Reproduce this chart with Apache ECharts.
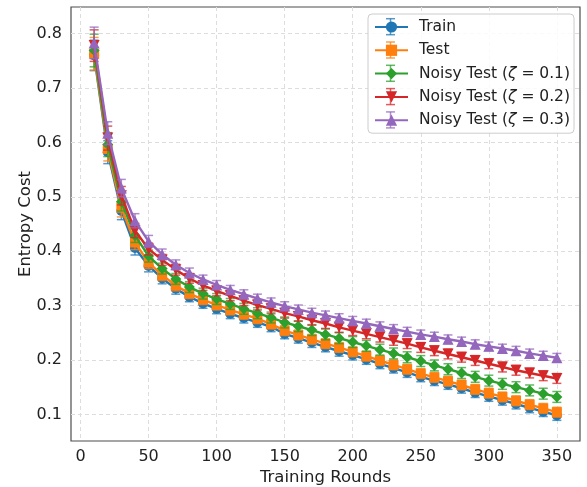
<!DOCTYPE html>
<html>
<head>
<meta charset="utf-8">
<script src="https://cdn.jsdelivr.net/npm/echarts@6/dist/echarts.min.js"></script>
<style>
  html, body { margin: 0; padding: 0; background: #fff; }
  #chart { width: 587px; height: 487px; }
</style>
</head>
<body>
<div id="chart"></div>
<script>
// Training rounds (x values)
const rounds = [10, 20, 30, 40, 50, 60, 70, 80, 90, 100, 110, 120, 130, 140, 150, 160, 170, 180,
  190, 200, 210, 220, 230, 240, 250, 260, 270, 280, 290, 300, 310, 320, 330, 340, 350];

// Mean entropy cost per split
const trainCost = [0.760, 0.582, 0.474, 0.406, 0.373, 0.350, 0.331, 0.316, 0.304, 0.294, 0.285, 0.277,
  0.269, 0.261, 0.248, 0.240, 0.232, 0.224, 0.216, 0.209, 0.201, 0.193, 0.185, 0.177, 0.169, 0.162,
  0.155, 0.148, 0.140, 0.133, 0.126, 0.119, 0.112, 0.105, 0.098];
const testCost = [0.763, 0.588, 0.480, 0.416, 0.379, 0.356, 0.337, 0.322, 0.311, 0.301, 0.292, 0.284,
  0.276, 0.266, 0.254, 0.246, 0.238, 0.230, 0.223, 0.215, 0.207, 0.199, 0.191, 0.183, 0.175, 0.168,
  0.161, 0.154, 0.146, 0.139, 0.132, 0.125, 0.118, 0.111, 0.104];
const noisy1Cost = [0.769, 0.596, 0.491, 0.429, 0.391, 0.368, 0.349, 0.334, 0.322, 0.312, 0.303, 0.294,
  0.286, 0.278, 0.269, 0.262, 0.255, 0.247, 0.240, 0.233, 0.226, 0.219, 0.212, 0.205, 0.198, 0.190,
  0.183, 0.176, 0.169, 0.162, 0.156, 0.150, 0.144, 0.138, 0.132];
const noisy2Cost = [0.778, 0.608, 0.502, 0.438, 0.404, 0.384, 0.366, 0.350, 0.337, 0.327, 0.318, 0.309,
  0.301, 0.294, 0.286, 0.280, 0.273, 0.267, 0.260, 0.254, 0.248, 0.242, 0.236, 0.230, 0.223, 0.217,
  0.211, 0.205, 0.199, 0.193, 0.187, 0.181, 0.176, 0.171, 0.166];
const noisy3Cost = [0.783, 0.617, 0.516, 0.456, 0.418, 0.394, 0.375, 0.360, 0.348, 0.338, 0.329, 0.321,
  0.313, 0.306, 0.299, 0.293, 0.287, 0.282, 0.277, 0.272, 0.267, 0.262, 0.257, 0.252, 0.247, 0.243,
  0.238, 0.234, 0.229, 0.225, 0.221, 0.217, 0.212, 0.208, 0.204];

// Standard deviation per split
const trainErr = [0.028, 0.021, 0.016, 0.013, 0.011, 0.010, 0.010, 0.009, 0.009, 0.009, 0.009, 0.009,
  0.009, 0.009, 0.009, 0.009, 0.009, 0.009, 0.009, 0.009, 0.009, 0.009, 0.009, 0.009, 0.009, 0.009,
  0.009, 0.009, 0.009, 0.009, 0.009, 0.009, 0.009, 0.009, 0.009];
const testErr = [0.030, 0.022, 0.017, 0.013, 0.011, 0.010, 0.010, 0.009, 0.009, 0.009, 0.009, 0.009,
  0.009, 0.009, 0.009, 0.009, 0.009, 0.009, 0.009, 0.009, 0.009, 0.009, 0.009, 0.009, 0.009, 0.009,
  0.009, 0.009, 0.009, 0.009, 0.009, 0.009, 0.009, 0.009, 0.009];
const noisy1Err = [0.030, 0.022, 0.017, 0.013, 0.011, 0.010, 0.010, 0.010, 0.010, 0.010, 0.010, 0.010,
  0.010, 0.010, 0.010, 0.010, 0.010, 0.010, 0.010, 0.010, 0.010, 0.010, 0.010, 0.010, 0.010, 0.010,
  0.010, 0.010, 0.010, 0.010, 0.010, 0.010, 0.010, 0.010, 0.010];
const noisy2Err = [0.029, 0.022, 0.017, 0.013, 0.011, 0.010, 0.010, 0.009, 0.009, 0.009, 0.009, 0.009,
  0.009, 0.009, 0.009, 0.009, 0.009, 0.009, 0.009, 0.009, 0.009, 0.009, 0.009, 0.009, 0.009, 0.009,
  0.009, 0.009, 0.009, 0.009, 0.009, 0.009, 0.009, 0.009, 0.009];
const noisy3Err = [0.029, 0.021, 0.016, 0.013, 0.011, 0.010, 0.009, 0.009, 0.008, 0.008, 0.008, 0.008,
  0.008, 0.008, 0.008, 0.008, 0.008, 0.008, 0.008, 0.008, 0.008, 0.008, 0.008, 0.008, 0.008, 0.008,
  0.008, 0.008, 0.008, 0.008, 0.008, 0.008, 0.008, 0.008, 0.008];

const seriesNames = ['Train', 'Test', 'Noisy Test (ζ = 0.1)', 'Noisy Test (ζ = 0.2)', 'Noisy Test (ζ = 0.3)'];
const means = [trainCost, testCost, noisy1Cost, noisy2Cost, noisy3Cost];
const errs = [trainErr, testErr, noisy1Err, noisy2Err, noisy3Err];
const colors = ['#1f77b4', '#ff7f0e', '#2ca02c', '#d62728', '#9467bd'];
const symbols = ['circle', 'rect', 'path://M5,0L10,5L5,10L0,5Z', 'triangle', 'triangle'];
const symbolRotates = [0, 0, 0, 180, 0];
const symbolSizes = [10, 10, 11, 11, 11];

const FONT = 'DejaVu Sans';

const chart = echarts.init(document.getElementById('chart'), null, { renderer: 'canvas' });

function errorBarRenderer(color) {
  return function (params, api) {
    const x = api.value(0);
    const top = api.coord([x, api.value(2)]);
    const bot = api.coord([x, api.value(1)]);
    const cap = 4.5;
    const style = { stroke: color, lineWidth: 1.5, opacity: 0.75 };
    return {
      type: 'group',
      children: [
        { type: 'line', shape: { x1: top[0], y1: top[1], x2: bot[0], y2: bot[1] }, style: style },
        { type: 'line', shape: { x1: top[0] - cap, y1: top[1], x2: top[0] + cap, y2: top[1] }, style: style },
        { type: 'line', shape: { x1: bot[0] - cap, y1: bot[1], x2: bot[0] + cap, y2: bot[1] }, style: style }
      ]
    };
  };
}

const series = [];
seriesNames.forEach(function (name, i) {
  series.push({
    name: name,
    type: 'line',
    data: rounds.map(function (r, k) { return [r, means[i][k]]; }),
    symbol: symbols[i],
    symbolRotate: symbolRotates[i],
    symbolSize: symbolSizes[i],
    showAllSymbol: true,
    itemStyle: { color: colors[i] },
    lineStyle: { color: colors[i], width: 2.4 },
    z: 3 + i * 2,
    clip: false,
    emphasis: { disabled: true },
    silent: true
  });
  series.push({
    name: name + ' error',
    type: 'custom',
    renderItem: errorBarRenderer(colors[i]),
    data: rounds.map(function (r, k) { return [r, means[i][k] - errs[i][k], means[i][k] + errs[i][k]]; }),
    encode: { x: 0, y: [1, 2] },
    itemStyle: { color: colors[i] },
    z: 2 + i * 2,
    clip: false,
    silent: true
  });
});

// Vertical error-bar glyphs drawn over the legend handles
const legendGlyphs = [];
const legendRowTop = 26.7, legendRowStep = 23.3, legendHandleX = 390.5;
colors.forEach(function (c, i) {
  const cy = legendRowTop + i * legendRowStep;
  const st = { stroke: c, lineWidth: 1.5, opacity: 0.75 };
  legendGlyphs.push({ type: 'line', z: 100, shape: { x1: legendHandleX, y1: cy - 8, x2: legendHandleX, y2: cy + 8 }, style: st });
  legendGlyphs.push({ type: 'line', z: 100, shape: { x1: legendHandleX - 4.5, y1: cy - 8, x2: legendHandleX + 4.5, y2: cy - 8 }, style: st });
  legendGlyphs.push({ type: 'line', z: 100, shape: { x1: legendHandleX - 4.5, y1: cy + 8, x2: legendHandleX + 4.5, y2: cy + 8 }, style: st });
});

chart.setOption({
  animation: false,
  backgroundColor: '#ffffff',
  textStyle: { fontFamily: FONT },
  grid: {
    left: 71, right: 7, top: 7, bottom: 46,
    outerBoundsMode: 'none',
    containLabel: false,
    show: true, borderColor: '#4d4d4d', borderWidth: 1.2, backgroundColor: 'transparent'
  },
  legend: {
    orient: 'vertical',
    left: 368, top: 14,
    padding: [5, 4, 5, 6],
    itemWidth: 33, itemHeight: 14, itemGap: 7.3,
    borderColor: '#cccccc', borderWidth: 1, borderRadius: 4,
    backgroundColor: 'rgba(255,255,255,0.85)',
    data: seriesNames,
    formatter: function (name) {
      const m = name.match(/^Noisy Test \(ζ = (.*)\)$/);
      if (m) return 'Noisy Test ({z|ζ} = ' + m[1] + ')';
      return name;
    },
    textStyle: {
      fontFamily: FONT, fontSize: 15.5, lineHeight: 16, color: '#222', padding: [0, 0, 0, 6],
      rich: { z: { fontFamily: FONT, fontSize: 15.5, lineHeight: 16, fontStyle: 'italic', color: '#222' } }
    }
  },
  xAxis: {
    type: 'value',
    min: -7, max: 367,
    splitNumber: 8,
    name: 'Training Rounds',
    nameLocation: 'middle',
    nameGap: 28,
    nameMoveOverlap: false,
    nameTextStyle: { fontFamily: FONT, fontSize: 16.5, color: '#222' },
    axisLine: { show: false },
    axisTick: { show: false },
    axisLabel: { fontFamily: FONT, fontSize: 16, color: '#222', margin: 8, showMinLabel: false, showMaxLabel: false },
    splitLine: { show: true, showMinLine: false, showMaxLine: false, lineStyle: { color: '#dddddd', type: [4, 3], width: 1 } }
  },
  yAxis: {
    type: 'value',
    min: 0.051, max: 0.849,
    splitNumber: 8,
    name: 'Entropy Cost',
    nameLocation: 'middle',
    nameGap: 37,
    nameMoveOverlap: false,
    nameTextStyle: { fontFamily: FONT, fontSize: 16.5, color: '#222' },
    axisLine: { show: false },
    axisTick: { show: false },
    axisLabel: {
      fontFamily: FONT, fontSize: 16, color: '#222', margin: 9, showMinLabel: false, showMaxLabel: false,
      formatter: function (v) { return (Math.round(v * 10) / 10).toFixed(1); }
    },
    splitLine: { show: true, showMinLine: false, showMaxLine: false, lineStyle: { color: '#dddddd', type: [4, 3], width: 1 } }
  },
  graphic: legendGlyphs,
  series: series
});
</script>
</body>
</html>
